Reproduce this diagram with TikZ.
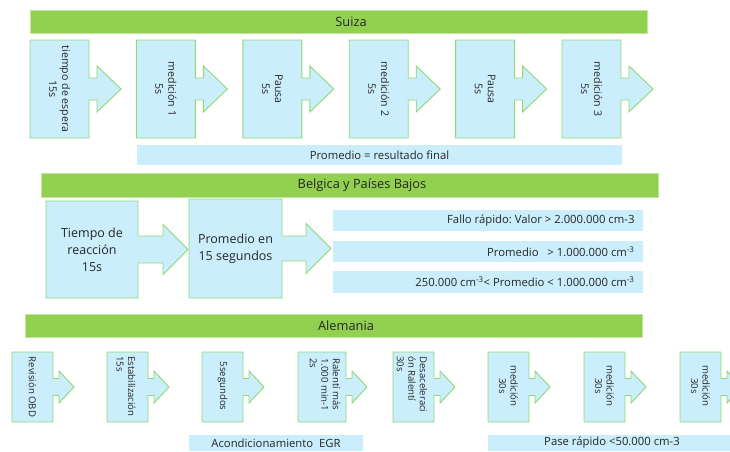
\documentclass[tikz,border=0pt]{standalone}
\usepackage{fontspec}
\setmainfont{Open Sans}
\frenchspacing

\definecolor{verde}{HTML}{92D050}
\definecolor{celeste}{HTML}{CAEEFB}
\definecolor{borde}{HTML}{8ED973}
\definecolor{texto}{HTML}{262626}

\tikzset{
  barra/.style={fill=verde, draw=verde!55!white, line width=0.7pt},
  caja/.style={fill=celeste, draw=borde, line width=0.9pt},
  franja/.style={fill=celeste, draw=none},
  titulo/.style={font=\fontsize{12.8}{14}\selectfont},
  girado/.style={rotate=-90, align=center, inner sep=0pt, font=\fontsize{10.6}{13}\selectfont},
  girchico/.style={rotate=-90, inner sep=0pt, font=\fontsize{9.6}{11.5}\selectfont},
  medio/.style={align=center, font=\fontsize{12.5}{17}\selectfont},
  nota/.style={font=\fontsize{11.3}{13}\selectfont},
}

% caja con flecha: #1 x izq, #2 y arriba, #3 ancho, #4 alto,
% #5 medio cuello, #6 media punta, #7 largo cuello, #8 largo punta
\newcommand{\flecha}[8]{%
  \draw[caja] (#1,#2) -- ++(#3,0) -- ++(0,#4/2-#5) -- ++(#7,0)
    -- ++(0,#5-#6) -- ++(#8,#6) -- ++(-#8,#6) -- ++(0,#5-#6)
    -- ++(-#7,0) -- ++(0,#4/2-#5) -- ++(-#3,0) -- cycle;}

\begin{document}
\begin{tikzpicture}[x=1pt,y=-1pt,every node/.style={text=texto}]
  \useasboundingbox (0,0) rectangle (730,451);

  % Suiza
  \draw[barra] (30,10) rectangle (647,33);
  \node[titulo] (tsuiza) at (351,21.5) {Suiza};
  \foreach \txt [count=\i from 0] in {{tiempo de espera\\15s},{medición 1\\5s},
      {Pausa\\5s},{medición 2\\5s},{Pausa\\5s},{medición 3\\5s}} {
    \flecha{30+106.4*\i}{40}{59}{98}{11}{23}{8}{24}
    \node[girado] (s\i) at (59.5+106.4*\i,89) {\txt};
  }
  \fill[franja] (137,145) rectangle (622,165);
  \node[nota] (final) at (379.5,155) {Promedio = resultado final};

  % Belgica y Paises Bajos
  \draw[barra] (41,173) rectangle (658,197);
  \node[titulo] (tbelg) at (362,185) {Belgica y Países Bajos};
  \flecha{46}{201}{92}{97}{13.5}{25}{25}{25}
  \flecha{189}{199}{93}{99}{12.5}{25}{24}{25}
  \node[medio] (reac) at (92,250) {Tiempo de\\reacción\\15s};
  \node[medio] (prom15) at (235.5,249) {Promedio en\\15 segundos};
  \fill[franja] (333,210) rectangle (643,231);
  \fill[franja] (333,241) rectangle (643,262);
  \fill[franja] (333,271) rectangle (643,293);
  \node[nota, anchor=east] (fallo) at (638,220.5) {Fallo rápido: Valor > 2.000.000 cm-3};
  \node[nota, anchor=east] (mayor) at (638,251.5) {Promedio\ \ \ > 1.000.000 cm\textsuperscript{-3}};
  \node[nota, anchor=east] (rango) at (638,282) {250.000 cm\textsuperscript{-3}< Promedio < 1.000.000 cm\textsuperscript{-3}};

  % Alemania
  \draw[barra] (25,314) rectangle (642,337);
  \node[titulo] (taleman) at (346,325.5) {Alemania};
  \foreach \x/\w in {12/41,107/41,202/41,298/48,393/41,488/41,584/41,680/41}
    \flecha{\x}{352}{\w}{70}{8.5}{16}{6}{15};
  \node[girchico] (a1) at (32.5,387) {Revisión OBD};
  \node[girchico, align=left, anchor=west] (a2) at (126,356) {Estabilización\\15s};
  \node[girchico] (a3) at (222.5,386) {5segundos};
  \node[girchico, align=left, anchor=west] (a4) at (325,358) {Ralentí más\\1.000 min-1\\2s};
  \node[girchico, align=left, anchor=west] (a5) at (412,356) {Desaceleraci\\ón Ralentí\\30s};
  \foreach \x [count=\i from 6] in {508.5,604.5,700.5}
    \node[girchico, align=center] (a\i) at (\x,386) {medición\\30s};
  \fill[franja] (189,435) rectangle (363,451);
  \node[nota] (egr) at (276,443) {Acondicionamiento\ \ EGR};
  \fill[franja] (488,435) rectangle (740,451);
  \node[nota] (pase) at (612,443) {Pase rápido <50.000 cm-3};
\end{tikzpicture}
\end{document}
